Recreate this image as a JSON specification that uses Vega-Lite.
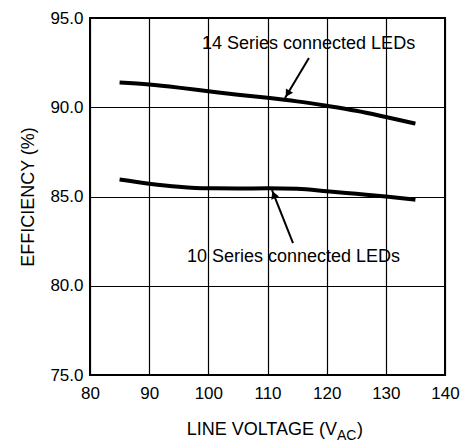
{
  "$schema": "https://vega.github.io/schema/vega-lite/v6.json",
  "width": 355,
  "height": 357,
  "autosize": {"type": "none"},
  "padding": {"left": 90, "top": 18, "right": 16, "bottom": 70},
  "background": "white",
  "config": {
    "view": {"stroke": "black", "strokeWidth": 2},
    "font": "Liberation Sans",
    "axis": {
      "grid": true, "gridColor": "black", "gridOpacity": 1, "gridWidth": 1.2,
      "domain": false, "ticks": false,
      "labelFont": "Liberation Sans", "labelFontSize": 17, "labelColor": "black",
      "titleFont": "Liberation Sans", "titleColor": "black", "titleFontWeight": "normal"
    }
  },
  "datasets": {
    "curves": [
      {"V": 85, "eff": 91.38, "series": "14 Series"},
      {"V": 90, "eff": 91.27, "series": "14 Series"},
      {"V": 95, "eff": 91.1, "series": "14 Series"},
      {"V": 100, "eff": 90.9, "series": "14 Series"},
      {"V": 105, "eff": 90.7, "series": "14 Series"},
      {"V": 110, "eff": 90.53, "series": "14 Series"},
      {"V": 115, "eff": 90.33, "series": "14 Series"},
      {"V": 120, "eff": 90.08, "series": "14 Series"},
      {"V": 125, "eff": 89.8, "series": "14 Series"},
      {"V": 130, "eff": 89.45, "series": "14 Series"},
      {"V": 135, "eff": 89.08, "series": "14 Series"},
      {"V": 85, "eff": 85.95, "series": "10 Series"},
      {"V": 90, "eff": 85.72, "series": "10 Series"},
      {"V": 95, "eff": 85.55, "series": "10 Series"},
      {"V": 100, "eff": 85.46, "series": "10 Series"},
      {"V": 105, "eff": 85.45, "series": "10 Series"},
      {"V": 110, "eff": 85.46, "series": "10 Series"},
      {"V": 115, "eff": 85.43, "series": "10 Series"},
      {"V": 120, "eff": 85.3, "series": "10 Series"},
      {"V": 125, "eff": 85.15, "series": "10 Series"},
      {"V": 130, "eff": 85.0, "series": "10 Series"},
      {"V": 135, "eff": 84.82, "series": "10 Series"}
    ],
    "arrows": [
      {"series": "14 Series", "x": 117.0, "y": 92.76, "x2": 112.96, "y2": 90.52},
      {"series": "10 Series", "x": 114.31, "y": 82.39, "x2": 110.76, "y2": 85.36}
    ],
    "heads": [
      {"series": "14 Series", "x": 113.4, "y": 90.76},
      {"series": "10 Series", "x": 111.06, "y": 85.1}
    ],
    "notes": [
      {"label": "14 Series connected LEDs", "x": 98.93, "y": 93.26},
      {"label": "10 Series connected LEDs", "x": 96.39, "y": 81.33}
    ]
  },
  "layer": [
    {
      "data": {"name": "curves"},
      "mark": {"type": "line", "color": "black", "strokeWidth": 4, "interpolate": "monotone"},
      "encoding": {
        "x": {"field": "V", "type": "quantitative",
              "scale": {"domain": [80, 140], "nice": false, "zero": false},
              "axis": {"values": [80, 90, 100, 110, 120, 130, 140], "title": null, "labelPadding": 10, "labelFlush": false}},
        "y": {"field": "eff", "type": "quantitative",
              "scale": {"domain": [75, 95], "nice": false, "zero": false},
              "axis": {"values": [75, 80, 85, 90, 95], "format": ".1f", "labelPadding": 7,
                       "title": "EFFICIENCY (%)", "titleFontSize": 18, "titlePadding": 12}},
        "detail": {"field": "series"}
      }
    },
    {
      "data": {"name": "arrows"},
      "mark": {"type": "rule", "color": "black", "strokeWidth": 2},
      "encoding": {
        "x": {"field": "x", "type": "quantitative"},
        "y": {"field": "y", "type": "quantitative"},
        "x2": {"field": "x2"},
        "y2": {"field": "y2"}
      }
    },
    {
      "data": {"name": "heads"},
      "transform": [{"filter": "datum.series == '14 Series'"}],
      "mark": {"type": "point", "shape": "triangle-up", "filled": true, "color": "black", "opacity": 1, "size": 70, "angle": 211},
      "encoding": {
        "x": {"field": "x", "type": "quantitative"},
        "y": {"field": "y", "type": "quantitative"}
      }
    },
    {
      "data": {"name": "heads"},
      "transform": [{"filter": "datum.series == '10 Series'"}],
      "mark": {"type": "point", "shape": "triangle-up", "filled": true, "color": "black", "opacity": 1, "size": 70, "angle": 338},
      "encoding": {
        "x": {"field": "x", "type": "quantitative"},
        "y": {"field": "y", "type": "quantitative"}
      }
    },
    {
      "data": {"name": "notes"},
      "mark": {"type": "text", "align": "left", "baseline": "alphabetic", "fontSize": 18, "color": "black", "font": "Liberation Sans"},
      "encoding": {
        "x": {"field": "x", "type": "quantitative"},
        "y": {"field": "y", "type": "quantitative"},
        "text": {"field": "label"}
      }
    },
    {
      "data": {"values": [{"label": "LINE VOLTAGE (V", "x": 121.75, "y": 71.64}]},
      "mark": {"type": "text", "align": "right", "baseline": "alphabetic", "fontSize": 18, "color": "black", "font": "Liberation Sans"},
      "encoding": {
        "x": {"field": "x", "type": "quantitative"},
        "y": {"field": "y", "type": "quantitative"},
        "text": {"field": "label"}
      }
    },
    {
      "data": {"values": [{"label": "AC", "x": 121.75, "y": 71.38}]},
      "mark": {"type": "text", "align": "left", "baseline": "alphabetic", "fontSize": 14, "color": "black", "font": "Liberation Sans"},
      "encoding": {
        "x": {"field": "x", "type": "quantitative"},
        "y": {"field": "y", "type": "quantitative"},
        "text": {"field": "label"}
      }
    },
    {
      "data": {"values": [{"label": ")", "x": 125.13, "y": 71.64}]},
      "mark": {"type": "text", "align": "left", "baseline": "alphabetic", "fontSize": 18, "color": "black", "font": "Liberation Sans"},
      "encoding": {
        "x": {"field": "x", "type": "quantitative"},
        "y": {"field": "y", "type": "quantitative"},
        "text": {"field": "label"}
      }
    }
  ]
}
